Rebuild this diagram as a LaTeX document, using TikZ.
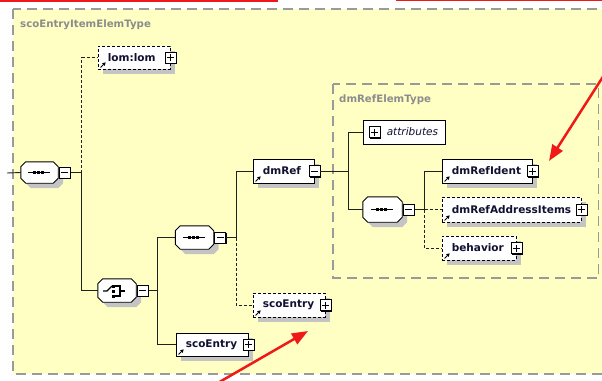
\documentclass[tikz,border=0pt]{standalone}
\usepackage{fontspec}
\setmainfont{DejaVu Sans}
\usetikzlibrary{shadows,calc,arrows.meta}
\definecolor{bgyellow}{HTML}{FFFFC4}
\definecolor{boxgray}{HTML}{9A9A9A}
\definecolor{labelgray}{HTML}{8C8C8C}
\definecolor{shadowgray}{HTML}{C4C4C4}
\definecolor{namecol}{HTML}{101030}
\definecolor{linecol}{HTML}{202020}
\definecolor{redc}{HTML}{F01818}
\tikzset{
 typebox/.style={draw=boxgray, line width=1.2pt, dash pattern=on 10pt off 6pt, fill=bgyellow},
 tlabel/.style={font=\fontsize{10.2}{12}\selectfont\bfseries, text=labelgray, inner sep=0pt, anchor=west},
 elem/.style={draw=black, fill=white, line width=0.8pt, inner sep=0pt,
   drop shadow={shadow xshift=5pt, shadow yshift=-5pt, fill=shadowgray, opacity=1}},
 plainelem/.style={draw=black, fill=white, line width=0.8pt, inner sep=0pt},
 opt/.style={dash pattern=on 3pt off 2pt},
 comp/.style={draw=none, inner sep=0pt, minimum width=38pt, minimum height=23pt},
 octline/.style={draw=black, fill=white, line width=0.9pt},
 pm/.style={draw=black, fill=white, line width=0.8pt, minimum size=11pt, inner sep=0pt,
   drop shadow={shadow xshift=1pt, shadow yshift=-1pt, fill=black, opacity=1}},
 pmsign/.style={line width=0.9pt, black},
 conn/.style={line width=0.9pt, draw=linecol},
 ename/.style={font=\fontsize{10.5}{12}\selectfont\bfseries, text=namecol, inner sep=0pt, anchor=west},
 iname/.style={font=\fontsize{10.5}{12}\selectfont\itshape, text=namecol, inner sep=0pt, anchor=west},
 refarrow/.style={-{Triangle[length=3pt,width=3.5pt]}, line width=1pt, black},
 redarrow/.style={-{Triangle[length=16pt,width=12pt]}, line width=2.5pt, draw=redc, fill=redc},
 symline/.style={line width=1.1pt, black},
 dot/.style={fill=black, minimum size=3pt, inner sep=0pt},
}
\newcommand{\octpath}[3]{($(#1.north west)+(5+#2,#3)$) -- ($(#1.north east)+(-5+#2,#3)$) -- ($(#1.north east)+(#2,5+#3)$) -- ($(#1.south east)+(#2,-5+#3)$) -- ($(#1.south east)+(-5+#2,#3)$) -- ($(#1.south west)+(5+#2,#3)$) -- ($(#1.south west)+(#2,-5+#3)$) -- ($(#1.north west)+(#2,5+#3)$) -- cycle}
\newcommand{\octa}[1]{%
  \fill[shadowgray] \octpath{#1}{5}{5};
  \path[octline] \octpath{#1}{0}{0};
}
\newcommand{\pmbox}[3]{%
  \node[pm] (#1) at (#2) {};
  \draw[pmsign] ($(#1.center)+(-3.5,0)$) -- ($(#1.center)+(3.5,0)$);
  \ifnum#3=1 \draw[pmsign] ($(#1.center)+(0,-3.5)$) -- ($(#1.center)+(0,3.5)$);\fi
}
\newcommand{\refmark}[1]{\draw[refarrow] ($(#1.south west)+(3,-2)$) -- ++(5,-5);}
\newcommand{\seqsym}[1]{%
  \draw[symline] ($(#1.center)+(-12,0)$) -- ($(#1.center)+(10,0)$);
  \node[dot] (#1-d1) at ($(#1.center)+(-5,0)$) {};
  \node[dot] (#1-d2) at ($(#1.center)+(-1,0)$) {};
  \node[dot] (#1-d3) at ($(#1.center)+(3,0)$) {};
}
\newcommand{\choicesym}[1]{%
  \draw[symline] ($(#1.center)+(-14,0.5)$) -- ($(#1.center)+(-10,0.5)$) -- ($(#1.center)+(-5,-4.5)$);
  \node[dot] (#1-d1) at ($(#1.center)+(-3.5,-4.5)$) {};
  \node[dot] (#1-d2) at ($(#1.center)+(-3.5,0.5)$) {};
  \node[dot] (#1-d3) at ($(#1.center)+(-3.5,5.5)$) {};
  \draw[symline] ($(#1.center)+(-2,-4.5)$) -- ($(#1.center)+(3,-4.5)$) -- ($(#1.center)+(3,5.5)$) -- ($(#1.center)+(-2,5.5)$);
  \draw[symline] ($(#1.center)+(3,0.5)$) -- ($(#1.center)+(8,0.5)$);
}
\begin{document}
\begin{tikzpicture}[x=1pt,y=-1pt]
\useasboundingbox (0,0) rectangle (602,380);
\clip (0,0) rectangle (602,380);
\fill[white] (0,0) rectangle (602,380);
% type boxes
\draw[typebox] (13,9) rectangle (612,374);
\node[tlabel] (outerlbl) at (20,24.5) {scoEntryItemElemType};
\draw[typebox] (333,84) rectangle (598.5,278);
\node[tlabel] (innerlbl) at (339,99.5) {dmRefElemType};

% root sequence
\coordinate (lstub) at (7,173);
\node[comp, minimum width=37pt, minimum height=21pt] (seq1) at (39.5,172.5) {};
\octa{seq1}
\seqsym{seq1}
\pmbox{seq1m}{$(seq1.east)+(6.5,0)$}{0}

% lom:lom
\node[elem, opt, minimum width=72pt, minimum height=23pt] (lom) at (134,57.5) {};
\node[ename] (lom-t) at ($(lom.west)+(10,0)$) {lom:lom};
\refmark{lom}
\pmbox{lomp}{lom.east}{1}

% choice
\node[comp] (choice) at (117,290.5) {};
\octa{choice}
\choicesym{choice}
\pmbox{choicem}{$(choice.east)+(6.5,0)$}{0}

% seq2
\node[comp] (seq2) at (194.5,237.5) {};
\octa{seq2}
\seqsym{seq2}
\pmbox{seq2m}{$(seq2.east)+(6.5,0)$}{0}

% scoEntry (solid)
\node[elem, minimum width=72pt, minimum height=23pt] (scoE2) at (212,344.5) {};
\node[ename] (scoE2-t) at ($(scoE2.west)+(10,0)$) {scoEntry};
\refmark{scoE2}
\pmbox{scoE2p}{scoE2.east}{1}

% scoEntry (optional)
\node[elem, opt, minimum width=72pt, minimum height=24pt] (scoE1) at (289,305) {};
\node[ename] (scoE1-t) at ($(scoE1.west)+(10,0)$) {scoEntry};
\refmark{scoE1}
\pmbox{scoE1p}{scoE1.east}{1}

% dmRef
\node[elem, minimum width=61pt, minimum height=24pt] (dmRef) at (283.5,171) {};
\node[ename] (dmRef-t) at ($(dmRef.west)+(10,0)$) {dmRef};
\refmark{dmRef}
\pmbox{dmRefm}{dmRef.east}{0}

% attributes
\node[plainelem, minimum width=82pt, minimum height=24pt] (attr) at (404,132) {};
\pmbox{attrp}{$(attr.west)+(12,0)$}{1}
\node[iname] (attr-t) at ($(attr.west)+(24,0)$) {attributes};

% seq3
\node[comp, minimum width=39pt, minimum height=25pt] (seq3) at (382.5,209.5) {};
\octa{seq3}
\seqsym{seq3}
\pmbox{seq3m}{$(seq3.east)+(6.5,0)$}{0}

% dmRefIdent
\node[elem, minimum width=90pt, minimum height=24pt] (ident) at (487,171) {};
\node[ename] (ident-t) at ($(ident.west)+(10,0)$) {dmRefIdent};
\refmark{ident}
\pmbox{identp}{ident.east}{1}

% dmRefAddressItems
\node[elem, opt, minimum width=139pt, minimum height=25pt] (addr) at (511.5,209.5) {};
\node[ename] (addr-t) at ($(addr.west)+(10,0)$) {dmRefAddressItems};
\refmark{addr}
\pmbox{addrp}{addr.east}{1}

% behavior
\node[elem, opt, minimum width=74pt, minimum height=24pt] (behav) at (479,248) {};
\node[ename] (behav-t) at ($(behav.west)+(10,0)$) {behavior};
\refmark{behav}
\pmbox{behavp}{behav.east}{1}

% connectors
\draw[conn] (lstub) -- (seq1.west);
\draw[conn] (seq1m.east) -- ++(11,0) coordinate (j1);
\draw[conn,opt] (j1) |- (lom.west);
\draw[conn] (j1) |- (choice.west);
\draw[conn] (choicem.east) -- ++(9,0) coordinate (j2);
\draw[conn] (j2) |- (seq2.west);
\draw[conn] (j2) |- (scoE2.west);
\draw[conn] (seq2m.east) -- ++(10,0) coordinate (j3);
\draw[conn] (j3) |- (dmRef.west);
\draw[conn,opt] (j3) |- (scoE1.west);
\draw[conn] (dmRefm.east) -- ++(28,0) coordinate (j4);
\draw[conn] (j4) |- (attr.west);
\draw[conn] (j4) |- (seq3.west);
\draw[conn] (seq3m.east) -- ++(10,0) coordinate (j5);
\draw[conn] (j5) |- (ident.west);
\draw[conn,opt] (j5) -- (addr.west);
\draw[conn,opt] (j5) |- (behav.west);

% red annotations
\draw[redc, line width=1.5pt] (-3,1) -- (277,1) -- (277,-3);
\draw[redc, line width=1.5pt] (397,-3) -- (397,0.5) -- (606,0.5);
\coordinate (r1s) at (606,72);
\coordinate (r1e) at (549,161);
\draw[redarrow] (r1s) -- (r1e);
\coordinate (r2s) at (216,384);
\coordinate (r2e) at (308,331);
\draw[redarrow] (r2s) -- (r2e);
\end{tikzpicture}
\end{document}
